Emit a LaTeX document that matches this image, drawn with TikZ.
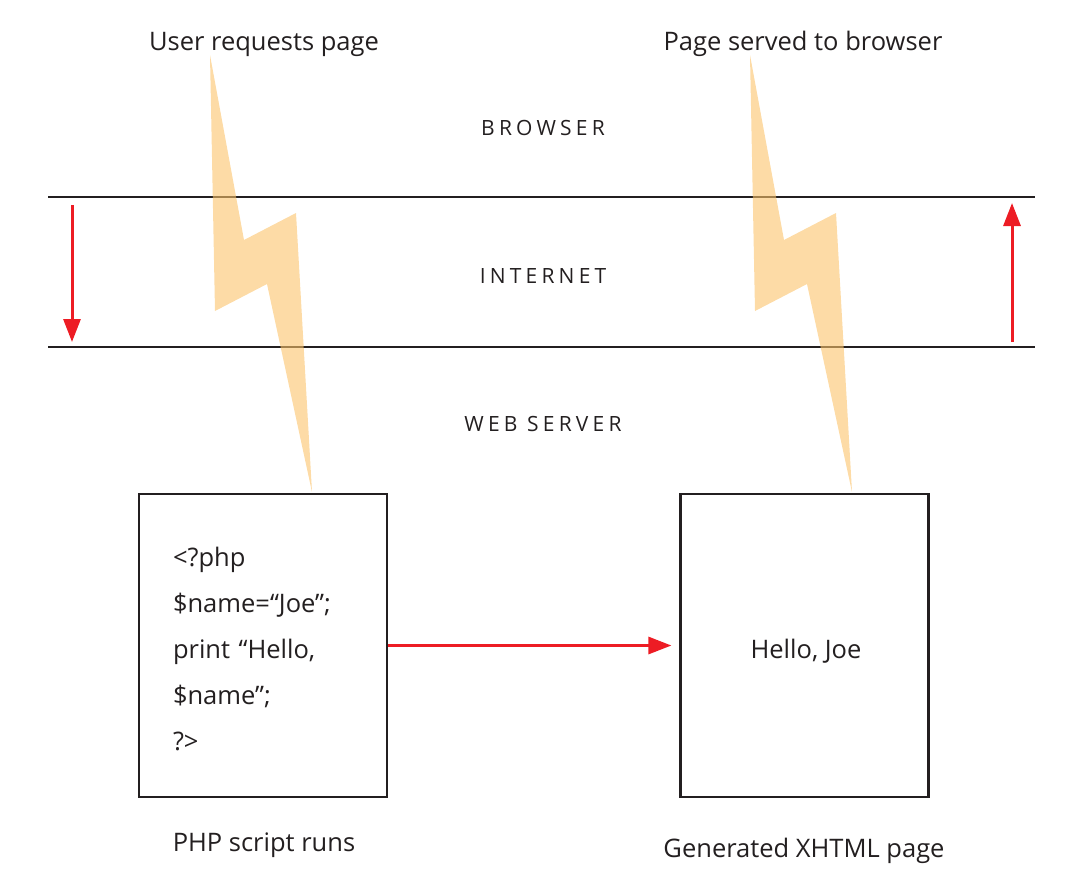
\documentclass[tikz,border=0pt]{standalone}
\usepackage{fontspec}
\setmainfont{Open Sans}
\usetikzlibrary{arrows.meta}

\definecolor{inkdark}{HTML}{231F20}
\definecolor{flowred}{HTML}{ED1C24}
\definecolor{boltorange}{HTML}{FBC36A}

\tikzset{
  layerlabel/.style={font=\fontsize{21}{26}\selectfont\addfontfeature{LetterSpace=20}, text=inkdark, anchor=base},
  caption/.style={font=\fontsize{25.5}{30}\selectfont, text=inkdark, anchor=base},
  pagebox/.style={draw=inkdark, line width=2.2pt, minimum width=248pt, minimum height=303pt, inner sep=0pt},
  pagetext/.style={text=inkdark, inner sep=0pt, font=\fontsize{25.5}{46}\selectfont},
  boundary/.style={draw=inkdark, line width=2.2pt},
  bolt/.style={fill=boltorange, fill opacity=0.6},
  flow/.style={draw=flowred, line width=3pt, -{Triangle[length=23pt,width=17pt]}}
}

\begin{document}
\begin{tikzpicture}[x=1pt,y=-1pt]
  \useasboundingbox (0,0) rectangle (1067,881);
  %\draw[very thin,lightgray] (0,0) grid[step=50] (1067,881);

  % layer boundaries
  \draw[boundary] (48,197) -- (1035,197);
  \draw[boundary] (48,347) -- (1035,347);

  \node[layerlabel] (browser) at (543,135) {BROWSER};
  \node[layerlabel] (internet) at (543,283) {INTERNET};
  \node[layerlabel] (webserver) at (543,431) {WEB SERVER};

  \node[caption] (request) at (264,50) {User requests page};
  \node[caption] (served) at (803,50) {Page served to browser};

  % the two pages
  \node[pagebox] (php) at (263,645.5) {};
  \node[pagebox] (page) at (804.5,645.5) {};
  \node[pagetext, align=left, text width=180pt] (phpcode) at ([yshift=-3pt]php.center)
    {<?php\\ \$name=“Joe”;\\ print “Hello,\\ \$name”;\\ ?>};
  \node[pagetext, anchor=base] (pagecode) at (806,658) {Hello, Joe};

  \node[caption] (phplabel) at (264,851) {PHP script runs};
  \node[caption] (pagelabel) at (804,857) {Generated XHTML page};

  % lightning bolts
  \fill[bolt] (210,55) -- (244,240) -- (296,213) -- (312,492) -- (267,284)
    -- (215,311) -- cycle;
  \fill[bolt,shift={(540,0)}] (210,55) -- (244,240) -- (296,213) -- (312,492)
    -- (267,284) -- (215,311) -- cycle;

  % arrows
  \coordinate (downtop) at (72,205);
  \coordinate (downend) at (72,342);
  \coordinate (upbottom) at (1012,342);
  \coordinate (uptop) at (1012,203);
  \draw[flow] (downtop) -- (downend);
  \draw[flow] (upbottom) -- (uptop);
  \draw[flow,shorten >=8pt] (php.east) -- (page.west);
\end{tikzpicture}
\end{document}
